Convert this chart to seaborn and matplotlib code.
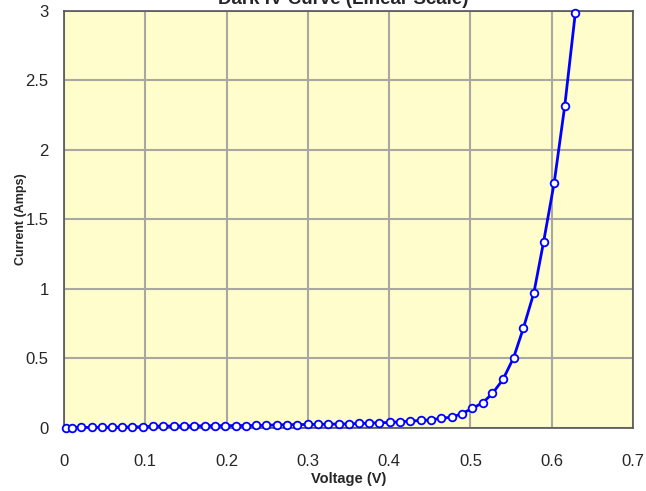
import matplotlib.pyplot as plt
import pandas as pd
import seaborn as sns

# Dark IV curve readings
voltage = [0.003, 0.0095, 0.0215, 0.034, 0.047, 0.059, 0.072, 0.084, 0.097,
           0.110, 0.122, 0.135, 0.148, 0.160, 0.173, 0.186, 0.198, 0.211,
           0.224, 0.236, 0.249, 0.262, 0.274, 0.287, 0.300, 0.312, 0.325,
           0.338, 0.350, 0.363, 0.375, 0.388, 0.401, 0.413, 0.426, 0.439,
           0.451, 0.464, 0.477, 0.489, 0.502, 0.515, 0.527, 0.540, 0.553,
           0.565, 0.578, 0.590, 0.603, 0.616, 0.629]
current = [0.000, 0.000, 0.002, 0.002, 0.003, 0.003, 0.004, 0.005, 0.006,
           0.010, 0.011, 0.012, 0.012, 0.013, 0.013, 0.014, 0.014, 0.015,
           0.015, 0.016, 0.017, 0.020, 0.021, 0.022, 0.023, 0.024, 0.025,
           0.026, 0.027, 0.030, 0.033, 0.035, 0.038, 0.042, 0.047, 0.052,
           0.055, 0.068, 0.075, 0.100, 0.138, 0.179, 0.246, 0.347, 0.503,
           0.715, 0.971, 1.339, 1.764, 2.318, 2.987]

x_ticks = [0, 0.1, 0.2, 0.3, 0.4, 0.5, 0.6, 0.7]
x_labels = ['0', '0.1', '0.2', '0.3', '0.4', '0.5', '0.6', '0.7']
y_ticks = [0, 0.5, 1, 1.5, 2, 2.5, 3]
y_labels = ['0', '0.5', '1', '1.5', '2', '2.5', '3']

df = pd.DataFrame({'voltage': voltage, 'current': current})

sns.set_style('white')
plt.rcParams['font.family'] = ['Liberation Sans', 'DejaVu Sans']

fig = plt.figure(figsize=(6.46, 4.91), dpi=100)
ax = fig.add_axes([0.099, 0.129, 0.881, 0.849])
ax.set_facecolor('#FFFDCC')

sns.lineplot(data=df, x='voltage', y='current', ax=ax, color='#0000FF',
             linewidth=2, marker='o', markersize=5.5,
             markerfacecolor='white', markeredgecolor='#0000FF',
             markeredgewidth=1.3, zorder=3, clip_on=False)

ax.set_xlim(0, 0.7)
ax.set_ylim(0, 3)
ax.set_xticks(x_ticks, x_labels, fontsize=12)
ax.set_yticks(y_ticks, y_labels, fontsize=12)
ax.grid(True, color='#A8A8A0', linewidth=1.5)
ax.set_axisbelow(True)
ax.tick_params(axis='both', direction='out', length=5, width=1,
               color='#999999')
ax.tick_params(axis='x', pad=14)
ax.tick_params(axis='y', pad=6)

for s in ax.spines.values():
    s.set_color('#555555')
    s.set_linewidth(1.2)

ax.set_xlabel('Voltage (V)', fontsize=10.5, fontweight='bold', labelpad=2)
ax.set_ylabel('Current (Amps)', fontsize=9, fontweight='bold', labelpad=-1)

fig.text(0.532, 0.991, 'Dark IV Curve (Linear Scale)', ha='center',
         va='baseline', fontsize=13.5, fontweight='bold')

fig.savefig('out.png', dpi=100)
